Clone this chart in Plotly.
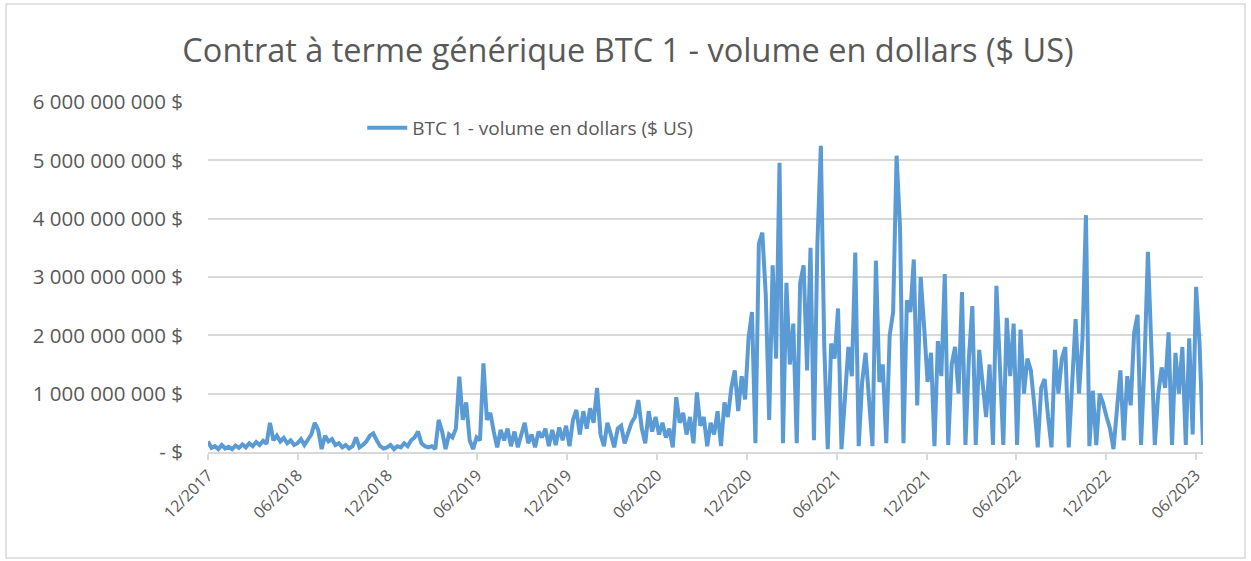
import pandas as pd
import plotly.graph_objects as go

# Weekly samples (billions of USD), starting 2017-12-18
start_date = "2017-12-18"
volume_bn = [
    # Dec 2017 - Jun 2018
    0.18, 0.07, 0.10, 0.05, 0.12, 0.06, 0.09, 0.05, 0.11, 0.07, 0.13, 0.08, 0.15,
    0.10, 0.17, 0.12, 0.19, 0.14, 0.50, 0.20, 0.28, 0.18, 0.24, 0.15, 0.20, 0.12,
    # Jun 2018 - Dec 2018
    0.15, 0.22, 0.12, 0.20, 0.30, 0.50, 0.38, 0.05, 0.28, 0.18, 0.22, 0.12, 0.15,
    0.08, 0.12, 0.06, 0.10, 0.25, 0.08, 0.12, 0.18, 0.28, 0.32, 0.20, 0.10, 0.06,
    # Dec 2018 - Jun 2019
    0.08, 0.12, 0.05, 0.10, 0.08, 0.15, 0.10, 0.20, 0.25, 0.35, 0.15, 0.10, 0.08,
    0.10, 0.05, 0.55, 0.35, 0.05, 0.30, 0.25, 0.40, 1.29, 0.55, 0.85, 0.20, 0.05,
    # Jun 2019 - Dec 2019
    0.25, 0.20, 1.52, 0.55, 0.67, 0.35, 0.08, 0.38, 0.20, 0.40, 0.10, 0.35, 0.08,
    0.30, 0.50, 0.15, 0.30, 0.08, 0.35, 0.25, 0.40, 0.10, 0.38, 0.12, 0.42, 0.20,
    # Dec 2019 - Jun 2020
    0.45, 0.10, 0.55, 0.72, 0.30, 0.70, 0.40, 0.75, 0.50, 1.10, 0.30, 0.10, 0.50,
    0.30, 0.08, 0.40, 0.45, 0.15, 0.35, 0.50, 0.60, 0.89, 0.40, 0.15, 0.70, 0.35,
    # Jun 2020 - Dec 2020
    0.60, 0.30, 0.50, 0.25, 0.40, 0.08, 0.94, 0.50, 0.67, 0.30, 0.60, 0.15, 1.02,
    0.45, 0.60, 0.10, 0.50, 0.30, 0.70, 0.10, 0.85, 0.60, 1.10, 1.40, 0.70, 1.30,
    # Dec 2020 - Jun 2021
    0.90, 1.95, 2.40, 0.15, 3.57, 3.76, 2.70, 0.55, 3.20, 1.60, 4.96, 0.15, 2.90,
    1.50, 2.20, 0.15, 2.90, 3.20, 1.40, 3.50, 0.20, 3.57, 5.25, 1.80, 0.05, 1.86,
    # Jun 2021 - Dec 2021
    1.60, 2.46, 0.05, 1.07, 1.80, 1.30, 3.42, 0.10, 1.20, 1.70, 1.00, 0.10, 3.28,
    1.20, 1.50, 0.15, 2.00, 2.40, 5.08, 3.85, 0.15, 2.60, 2.40, 3.30, 0.80, 3.00,
    # Dec 2021 - Jun 2022
    2.15, 1.20, 1.70, 0.10, 1.90, 1.30, 3.05, 0.12, 1.50, 1.80, 1.00, 2.74, 0.12,
    1.60, 2.50, 0.12, 1.75, 1.20, 0.60, 1.50, 0.12, 2.85, 1.40, 0.12, 2.30, 1.30,
    # Jun 2022 - Dec 2022
    2.20, 0.12, 2.10, 1.00, 1.60, 1.40, 0.80, 0.08, 1.10, 1.25, 0.60, 0.08, 1.75,
    1.00, 1.60, 1.80, 0.08, 1.20, 2.28, 1.00, 1.95, 4.06, 0.10, 1.05, 0.12, 1.00,
    # Dec 2022 - Jun 2023
    0.83, 0.60, 0.40, 0.05, 0.83, 1.40, 0.20, 1.30, 0.80, 2.05, 2.35, 0.12, 1.50,
    3.43, 1.80, 0.12, 1.00, 1.45, 1.10, 2.05, 0.12, 1.70, 1.00, 1.80, 0.12, 1.95,
    0.30, 2.83, 1.85, 0.12,
]

tick_dates = ["2017-12-18", "2018-06-18", "2018-12-18", "2019-06-18", "2019-12-18",
              "2020-06-18", "2020-12-18", "2021-06-18", "2021-12-18", "2022-06-18",
              "2022-12-18", "2023-06-18"]
tick_labels = ["12/2017", "06/2018", "12/2018", "06/2019", "12/2019", "06/2020",
               "12/2020", "06/2021", "12/2021", "06/2022", "12/2022", "06/2023"]

y_tick_vals = [0, 1e9, 2e9, 3e9, 4e9, 5e9, 6e9]
y_tick_text = ["- $", "1 000 000 000 $", "2 000 000 000 $", "3 000 000 000 $",
               "4 000 000 000 $", "5 000 000 000 $", "6 000 000 000 $"]

title_text = "Contrat à terme générique BTC 1 - volume en dollars ($ US)"
series_name = "BTC 1 - volume en dollars ($ US)"

dates = pd.date_range(start_date, periods=len(volume_bn), freq="7D")
values = [v * 1e9 for v in volume_bn]

fig = go.Figure()
fig.add_trace(go.Scatter(
    x=dates, y=values, mode="lines", name=series_name,
    line=dict(color="#5B9BD5", width=4, shape="linear"),
    showlegend=True,
))

grey = "#595959"
W, H = 1251, 561
L, R, T, B = 208, 48, 102, 109
pw, ph = W - L - R, H - T - B
fig.update_layout(
    width=W, height=H,
    margin=dict(l=L, r=R, t=T, b=B),
    paper_bgcolor="white", plot_bgcolor="white",
    font=dict(family="Open Sans, Noto Sans, sans-serif", color=grey),
    title=dict(text=title_text, x=0.502, xref="container", xanchor="center",
               y=1 - 51 / H, yref="container", yanchor="middle",
               font=dict(size=32.5, color=grey, family="Open Sans, sans-serif")),
    showlegend=True,
    legend=dict(x=0.155, y=(H - B - 128) / ph, xanchor="left", yanchor="middle",
                bgcolor="rgba(0,0,0,0)", font=dict(size=19, color=grey),
                itemwidth=40),
    xaxis=dict(
        range=[dates[0], dates[-1]],
        tickvals=tick_dates, ticktext=tick_labels, tickangle=-45,
        tickfont=dict(size=16, color=grey),
        showgrid=False, showline=True, linecolor="#D9D9D9", linewidth=1.5,
        ticks="outside", ticklen=6, tickcolor="#D9D9D9", tickwidth=1.5,
        zeroline=False,
    ),
    yaxis=dict(
        range=[0, 6e9], tickvals=y_tick_vals, ticktext=y_tick_text,
        tickfont=dict(size=20.5, color=grey),
        showgrid=True, gridcolor="#D9D9D9", gridwidth=1.5,
        zeroline=False, showline=False, ticks="", ticklabelstandoff=24,
    ),
    shapes=[dict(type="rect", xref="paper", yref="paper",
                 x0=(6 - L) / pw, x1=(1245 - L) / pw,
                 y0=(H - B - 558) / ph, y1=(H - B - 4) / ph,
                 line=dict(color="#D9D9D9", width=1.5), fillcolor="rgba(0,0,0,0)",
                 layer="below")],
)

fig.write_html("out.html", config={"displayModeBar": False},
               post_script="document.body.style.margin='0px';")
